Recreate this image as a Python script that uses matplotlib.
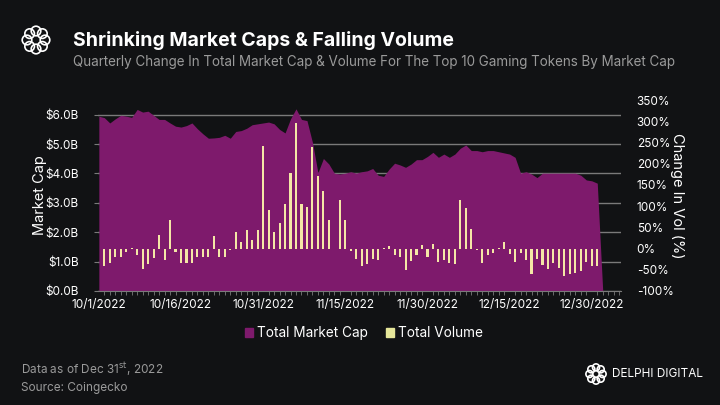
import numpy as np
import pandas as pd
import matplotlib
matplotlib.use('Agg')
import matplotlib.pyplot as plt
from matplotlib.patches import Circle

plt.rcParams['font.family'] = ['Inter', 'DejaVu Sans']

# data
dates = pd.date_range('2022-10-01', '2023-01-01', freq='D')
market_cap = [5.95, 5.90, 5.72, 5.86, 5.98, 5.95, 5.91, 6.18, 6.09, 6.12,
              5.98, 5.84, 5.84, 5.72, 5.61, 5.58, 5.63, 5.72, 5.52, 5.35,
              5.20, 5.21, 5.23, 5.30, 5.20, 5.43, 5.46, 5.54, 5.66, 5.69,
              5.72, 5.75, 5.69, 5.50, 5.38, 5.86, 6.20, 5.84, 5.80, 5.06,
              4.03, 4.51, 4.32, 4.01, 3.98, 4.01, 4.06, 4.01, 4.06, 4.09,
              4.17, 3.94, 3.90, 4.15, 4.35, 4.29, 4.21, 4.32, 4.47, 4.47,
              4.58, 4.72, 4.55, 4.66, 4.55, 4.66, 4.86, 4.97, 4.78, 4.78,
              4.74, 4.78, 4.78, 4.74, 4.70, 4.66, 4.55, 4.01, 4.06, 3.98,
              3.86, 4.01, 4.01, 4.01, 4.01, 4.01, 4.01, 4.01, 3.94, 3.78,
              3.75, 3.67, 0.0]
vol_dates = pd.date_range('2022-10-02', '2022-12-31', freq='D')
vol_change = [-42, -34, -19, -21, -7, 1, -15, -48, -37, -23,
              33, -28, 67, -9, -34, -34, -33, -20, -19, -19,
              29, -21, -21, -4, 40, 15, 43, 21, 43, 242,
              90, 40, 60, 106, 177, 295, 104, 98, 240, 172,
              135, 67, -2, 114, 67, -5, -25, -42, -37, -25,
              -28, 2, 7, -15, -21, -50, -29, -15, 9, -19,
              11, -31, -27, -34, -37, 114, 96, 45, -3, -33,
              -15, -11, 2, 15, -12, -31, -11, -28, -60, -25,
              -39, -49, -34, -45, -64, -60, -58, -53, -31, -41,
              -41]
tick_dates = pd.date_range('2022-10-01', '2022-12-30', freq='15D')

bg = '#111214'
purple = '#7E1A6C'
cream = '#F4E7A6'
grid = '#7a7a7a'

fig = plt.figure(figsize=(7.2, 4.05), dpi=100, facecolor=bg)
ax = fig.add_axes([0.136, 0.2815, 0.727, 0.4715])
ax.set_facecolor(bg)
ax2 = ax.twinx()

ax.fill_between(dates, market_cap, 0, color=purple, lw=0, zorder=2)
ax.set_ylim(0, 6.5)
ax.set_yticks(np.arange(0, 7, 1))
ax.set_yticklabels(['$%.1fB' % v for v in np.arange(0, 7, 1)])
ax.grid(axis='y', color=grid, lw=1, zorder=0)
ax.set_axisbelow(True)
ax.set_ylabel('Market Cap', color='white', fontsize=10.5, va='center')
ax.yaxis.set_label_coords(-0.11, 0.5)

ax2.bar(vol_dates, vol_change, width=0.38, color=cream, lw=0, zorder=3)
ax2.set_ylim(-100, 350)
ax2.set_yticks(np.arange(-100, 351, 50))
ax2.set_yticklabels(['%d%%' % v for v in np.arange(-100, 351, 50)])
ax2.set_ylabel('Change In Vol (%)', color='white', fontsize=10.5,
               rotation=270, va='center')
ax2.yaxis.set_label_coords(1.107, 0.5)

x0 = pd.Timestamp('2022-10-01') - pd.Timedelta(hours=4)
x1 = pd.Timestamp('2022-10-01') + pd.Timedelta(days=95.4)
ax.set_xlim(x0, x1)
ax.set_xticks(tick_dates)
ax.set_xticklabels(['%d/%d/%d' % (d.month, d.day, d.year) for d in tick_dates])
ax.set_xticks(pd.date_range('2022-10-01', '2023-01-04', freq='D'), minor=True)

for a in (ax, ax2):
    for s in a.spines.values():
        s.set_visible(False)
    a.tick_params(colors='white', labelsize=8.5, length=0)
ax.tick_params(axis='y', which='major', length=3, color=grid, pad=11)
ax.tick_params(axis='x', which='major', length=0, pad=6)
ax.tick_params(axis='x', which='minor', length=3, color=grid)
ax2.tick_params(axis='y', pad=11)
ax.spines['bottom'].set_visible(True)
ax.spines['bottom'].set_color(grid)

# legend
ly = 0.179
for sx, label, col in [(245, 'Total Market Cap', purple), (386, 'Total Volume', '#E6E69A')]:
    fig.patches.append(plt.Rectangle((sx / 720, ly - 0.012), 8 / 720, 8 / 405 * 1.2,
                                     transform=fig.transFigure, color=col))
    fig.text((sx + 12) / 720, ly, label, color='white', fontsize=9.8, va='center')

# titles
fig.text(0.101, 0.9, 'Shrinking Market Caps & Falling Volume', color='white',
         fontsize=14, fontweight='bold', va='center')
fig.text(0.101, 0.847,
         'Quarterly Change In Total Market Cap & Volume For The Top 10 Gaming Tokens By Market Cap',
         color='#9a9a9a', fontsize=9.7, va='center')

# footer
fig.text(0.029, 0.088, r'Data as of Dec 31$^{\mathrm{st}}$, 2022', color='#9a9a9a',
         fontsize=8.5, va='center')
fig.text(0.029, 0.041, 'Source: Coingecko', color='#9a9a9a', fontsize=8.5, va='center')
fig.text(0.85, 0.077, 'DELPHI DIGITAL', color='white', fontsize=8.5, va='center')


def logo(cx, cy, r, size):
    lax = fig.add_axes([cx - size / 2 / 7.2 / 100, cy - size / 2 / 4.05 / 100,
                        size / 7.2 / 100, size / 4.05 / 100])
    lax.set_xlim(-1, 1)
    lax.set_ylim(-1, 1)
    lax.axis('off')
    for k in range(8):
        a = k * np.pi / 4
        lax.add_patch(Circle((r * np.cos(a), r * np.sin(a)), 0.32, fill=False,
                             ec='white', lw=1.2))


logo(36 / 720, 1 - 40 / 405, 0.6, 30)
logo(596 / 720, 1 - 374 / 405, 0.6, 22)

fig.savefig('out.png', dpi=100, facecolor=bg)
